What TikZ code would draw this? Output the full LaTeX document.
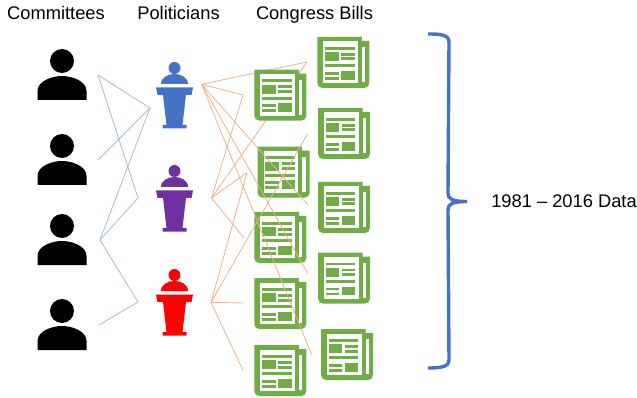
\documentclass[tikz,border=0pt]{standalone}
\usepackage{fontspec}
\setmainfont{Liberation Sans}
\usetikzlibrary{positioning}
\definecolor{paperGreen}{RGB}{112,173,71}
\definecolor{podiumBlue}{RGB}{68,114,196}
\definecolor{podiumPurple}{RGB}{112,48,160}
\definecolor{linkBlue}{RGB}{165,185,218}
\definecolor{linkOrange}{RGB}{236,178,140}

\begin{document}
\begin{tikzpicture}[
  x=1pt, y=-1pt,
  title/.style={font=\fontsize{18.3}{20}\selectfont, anchor=base},
  committeelink/.style={linkBlue, line width=0.8pt},
  billlink/.style={linkOrange, line width=0.8pt},
  brace/.style={podiumBlue, line width=3.4pt},
  committee/.pic={
    \fill (0,0) circle[radius=12pt];
    \fill (-24.5,39) -- (-24.5,30) .. controls (-24.5,20) and (-10,15) .. (0,15)
      .. controls (10,15) and (24.5,20) .. (24.5,30) -- (24.5,39) -- cycle;
  },
  podium/.pic={
    \fill[pic actions] (0,0) circle[radius=6pt];
    \fill[pic actions] (-13.5,16) .. controls (-13.5,9) and (-6,6) .. (0,6)
      .. controls (6,6) and (13.5,9) .. (13.5,16) -- cycle;
    \fill[pic actions] (-18.5,19.5) -- (18.5,19.5) -- (17,27) -- (11.5,27) -- (8,57)
      -- (12,57) -- (12,60.5) -- (-12,60.5) -- (-12,57) -- (-8,57) -- (-11.5,27)
      -- (-17,27) -- cycle;
  },
  bill/.pic={
    \fill[paperGreen] (0,0) -- (44.5,0) -- (44.5,4) -- (52,4)
      [rounded corners=5pt] -- (52,51) -- (0,51) [sharp corners] -- cycle;
    \fill[white] (6,4.5) rectangle (40.5,46);
    \fill[white] (44.5,10) rectangle (47.8,45);
    \fill[paperGreen] (7.5,9.8) rectangle (37.3,12.7);
    \fill[paperGreen] (7.5,15) rectangle (21.3,24.3);
    \fill[paperGreen] (23.8,15.8) rectangle (37.3,18.7);
    \fill[paperGreen] (23.8,20.5) rectangle (37.3,23.5);
    \fill[paperGreen] (7.5,27) rectangle (37.3,30.2);
    \fill[paperGreen] (7.5,34.8) rectangle (21.3,37.6);
    \fill[paperGreen] (7.5,39.8) rectangle (21.3,42.6);
    \fill[paperGreen] (23.8,33.8) rectangle (37.3,42.6);
  }
]
\useasboundingbox (0,0) rectangle (637,398);

% Headings
\node[title] (committees) at (56,20) {Committees};
\node[title] (politicians) at (178.5,20) {Politicians};
\node[title] (bills) at (314.5,20) {Congress Bills};
\node[font=\fontsize{18.3}{20}\selectfont] (range) at (564,201.5) {1981 -- 2016 Data};

% Icons
\foreach \name/\y in {comA/61, comB/146, comC/226, comD/311}
  \pic (\name) at (62,\y) {committee};
\pic[fill=podiumBlue] (polA) at (174.5,68) {podium};
\pic[fill=podiumPurple] (polB) at (174.5,171) {podium};
\pic[fill=red] (polC) at (174.5,275) {podium};
\foreach \name/\x/\y in {billB/257.7/146.7, billC/254.3/212,
    billD/254.3/278, billE/254.3/345, billF/317.3/37, billG/318/108,
    billH/318/182, billI/318/252.7, billJ/321/329}
  \pic (\name) at (\x,\y) {bill};

% Connector ends
\coordinate (c1) at (98,75);
\coordinate (c2) at (98,160);
\coordinate (c3) at (100,240);
\coordinate (c4) at (99,325);
\coordinate (p1in) at (150,108);
\coordinate (p2in) at (138,198);
\coordinate (p3in) at (138,302);
\coordinate (p1out) at (201.7,84.3);
\coordinate (p2out) at (211.5,198);
\coordinate (p3out) at (211,302.3);
\coordinate (l1) at (243,95);
\coordinate (l2) at (247,172.7);
\coordinate (l3) at (244,238);
\coordinate (l4) at (243.3,303);
\coordinate (l5) at (243.3,371);
\coordinate (r1) at (307,62);
\coordinate (r2) at (307.5,134);
\coordinate (r3) at (308,205);
\coordinate (r4) at (308,274);
\coordinate (r5) at (311.7,355);

% Links
\foreach \a/\b in {c1/p1in, c1/p2in, c2/p1in, c3/p1in, c3/p2in, c3/p3in, c4/p3in}
  \draw[committeelink] (\a) -- (\b);
\foreach \a/\b in {p1out/l1, p1out/r1, p1out/r3, p1out/r4, p1out/r5,
    p2out/l1, p2out/r1, p2out/l2, p2out/l3,
    p3out/r2, p3out/l2, p3out/l4, p3out/l5}
  \draw[billlink] (\a) -- (\b);

% this one sits on top of the links
\pic (billA) at (254.3,69.7) {bill};

% Brace
\coordinate (braceTop) at (428,34);
\coordinate (braceTip) at (467,201.5);
\coordinate (braceEnd) at (428,368);
\draw[brace] (braceTop) .. controls (440,34) and (449,34.5) .. (449,42) -- (448,193)
  .. controls (448,199) and (452,201.5) .. (braceTip)
  .. controls (452,201.5) and (448,204) .. (448,210) -- (449,360)
  .. controls (449,367) and (440,368) .. (braceEnd);

\end{tikzpicture}
\end{document}
